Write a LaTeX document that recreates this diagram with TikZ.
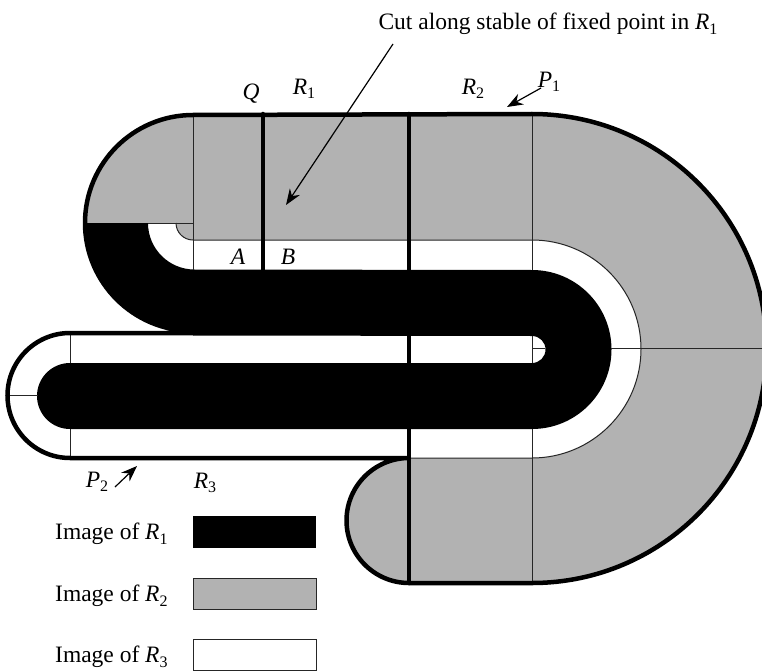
\documentclass[tikz,border=0pt]{standalone}
\usepackage{fontspec}
\setmainfont{Liberation Serif}
\usetikzlibrary{arrows.meta}
\definecolor{regiongray}{RGB}{178,178,178}
\newcommand{\rsub}[2]{\textit{#1}\raisebox{-0.4ex}{\fontsize{16}{16}\selectfont #2}}
\tikzset{
  label text/.style={font=\fontsize{23.5}{28}\selectfont, inner sep=0pt},
  thick line/.style={line width=4.5pt, line cap=round},
  thin line/.style={line width=1pt, black!85},
  pointer/.style={-{Stealth[length=16pt,width=12pt]}, line width=1.2pt},
}
\begin{document}
\begin{tikzpicture}[x=1pt,y=-1pt]
    \useasboundingbox (0,0) rectangle (762,671);
    \clip (0,0) rectangle (762,671);

    % Gray region
    \fill[regiongray] (193,114) -- (532,114) arc (-90:90:234.5) -- (409,583) arc (90:270:62.5)
        -- (532,458) arc (90:-90:109) -- (193,240) arc (90:180:17) -- (85,223) arc (180:270:108) -- cycle;

    % Black region
    \fill[black] (85,223) -- (148,223) arc (180:90:46.5) -- (532,270) arc (-90:90:79.5)
        -- (70,429) arc (90:270:33) -- (532,363) arc (90:-90:13.5) -- (193,335.5) -- (193,331)
        arc (90:180:108) -- cycle;

    % Thin lines
    \draw[thin line] (193,114) -- (193,270);
    \draw[thin line] (532,114) -- (532,270);
    \draw[thin line] (532,336) -- (532,363);
    \draw[thin line] (532,429) -- (532,583);
    \draw[thin line] (70,333) -- (70,363);
    \draw[thin line] (70,429) -- (70,458);
    \draw[thin line] (8,395.5) -- (38,395.5);
    \draw[thin line] (532,348.5) -- (545,348.5);
    \draw[thin line] (611,348.5) -- (766,348.5);
    \draw[thin line] (148,223) -- (193,223);
    \draw[thin line] (176,223) arc (180:90:17) -- (532,240) arc (-90:90:109) -- (409,458);

    % Thick lines
    \draw[thick line] (193,331) arc (90:270:108) -- (532,114) arc (-90:90:234.5) -- (409,583)
        arc (90:270:62.5) -- (70,458) arc (90:270:62.5) -- (193,333);
    \draw[thick line] (263,114) -- (263,270);
    \draw[thick line] (409,114) -- (409,583);

    % Labels
    \node[label text] (cutlabel) at (548,24) {Cut along stable of fixed point in \rsub{R}{1}};
    \node[label text] (labelQ) at (251,94) {\textit{Q}};
    \node[label text] (labelRone) at (304,89) {\rsub{R}{1}};
    \node[label text] (labelRtwo) at (473,89) {\rsub{R}{2}};
    \node[label text] (labelPone) at (549,82) {\rsub{P}{1}};
    \node[label text] (labelA) at (238,257) {\textit{A}};
    \node[label text] (labelB) at (288,257) {\textit{B}};
    \node[label text] (labelPtwo) at (97,482) {\rsub{P}{2}};
    \node[label text] (labelRthree) at (205,483) {\rsub{R}{3}};

    % Arrows
    \coordinate (cuttail) at (393,44);
    \coordinate (cuttip) at (286,205);
    \coordinate (ponetail) at (541,88);
    \coordinate (ponetip) at (507,107);
    \coordinate (ptwotail) at (115,487);
    \coordinate (ptwotip) at (137,466);
    \draw[pointer] (cuttail) -- (cuttip);
    \draw[pointer] (ponetail) -- (ponetip);
    \draw[pointer] (ptwotail) -- (ptwotip);

    % Legend
    \node[label text, anchor=west] (imageone) at (55,534) {Image of \rsub{R}{1}};
    \fill[black] (193,516) rectangle (316,548);
    \node[label text, anchor=west] (imagetwo) at (55,596) {Image of \rsub{R}{2}};
    \draw[thin line, fill=regiongray] (193,578) rectangle (316,609);
    \node[label text, anchor=west] (imagethree) at (55,657) {Image of \rsub{R}{3}};
    \draw[thin line, fill=white] (193,639) rectangle (316,670);
\end{tikzpicture}
\end{document}
